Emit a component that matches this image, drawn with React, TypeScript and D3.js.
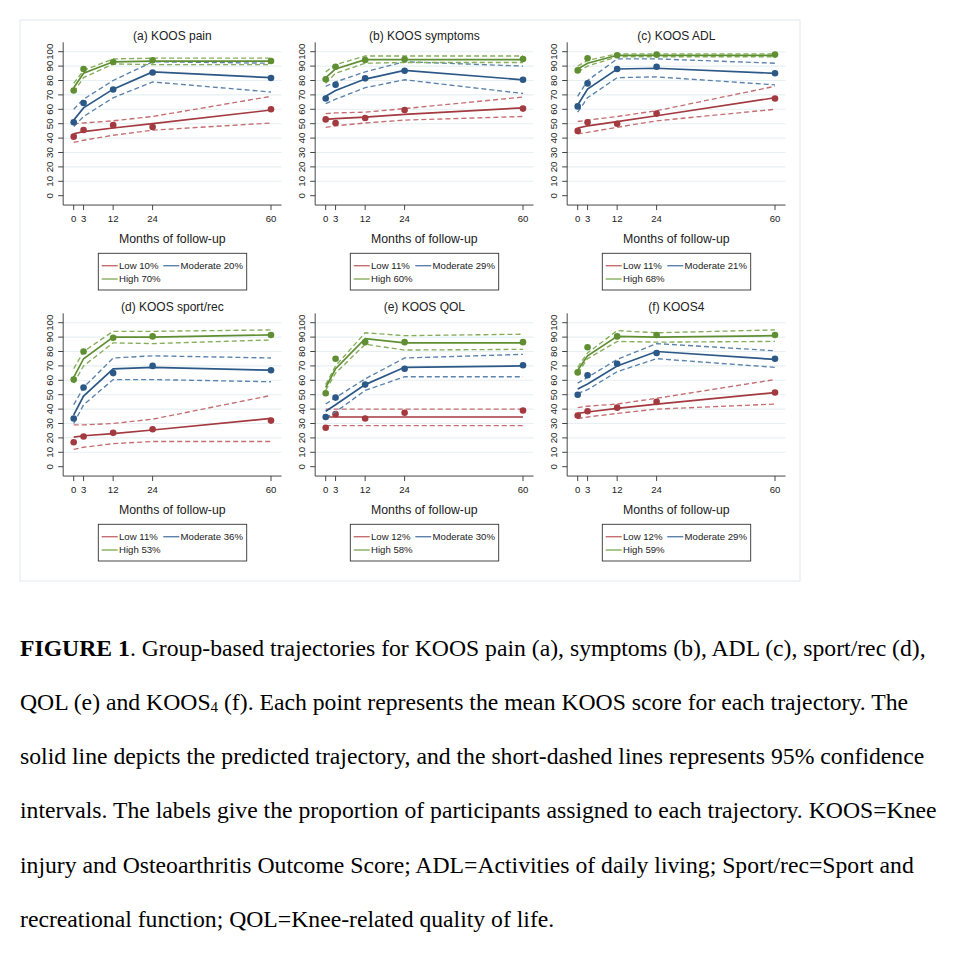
import React from 'react';
import * as d3 from 'd3';

// months of follow-up
const months = [0, 3, 12, 24, 60];
const yTicks = [0, 10, 20, 30, 40, 50, 60, 70, 80, 90, 100];
const gridTicks = [10, 20, 30, 40, 50, 60, 70, 80, 90, 100];

const titles = ['(a) KOOS pain', '(b) KOOS symptoms', '(c) KOOS ADL', '(d) KOOS sport/rec', '(e) KOOS QOL', '(f) KOOS4'];
const lowPct = ['10%', '11%', '11%', '11%', '12%', '12%'];
const modPct = ['20%', '29%', '21%', '36%', '30%', '29%'];
const highPct = ['70%', '60%', '68%', '53%', '58%', '59%'];

// each: [low, moderate, high] over months
const painObs = [[41, 45.6, 49, 47.7, 60], [51, 64.4, 73.8, 85.6, 81.7], [73.1, 88, 92.8, 94, 93.5]];
const painFit = [[43, 44.5, 47, 50, 59.5], [52.5, 61, 74, 86, 82], [75, 85, 93, 93.5, 93.5]];
const painUp = [[50, 50.5, 52, 55, 69], [60, 67, 80, 93, 92], [78, 87, 95, 95.5, 95.5]];
const painLo = [[37, 38.5, 42, 45.5, 50.5], [48, 55, 68, 79, 72], [72, 82, 91.5, 91, 91]];

const sympObs = [[53, 50.5, 54, 59.5, 60.5], [67.5, 77, 81.5, 86.8, 80.5], [80.8, 89.6, 94.2, 94.7, 94.9]];
const sympFit = [[53, 53.5, 54.5, 56.5, 61], [69, 73, 81, 87, 80.5], [82, 88, 94.5, 94.5, 94.5]];
const sympUp = [[57, 57.5, 58, 60.5, 68.5], [76, 79, 86, 93, 90], [86, 91, 97, 97, 97]];
const sympLo = [[47.5, 48.5, 50.5, 52.5, 55], [64, 67, 75, 80.5, 71], [78, 85, 92, 92.5, 92.5]];

const adlObs = [[45, 51, 50, 57, 67.5], [62, 78, 88, 89.5, 85], [87, 95.5, 97.5, 98, 98]];
const adlFit = [[47, 48.5, 51.5, 55.5, 68], [63, 74, 88, 88.5, 85], [88, 92, 97.5, 97.5, 97.5]];
const adlUp = [[51.5, 52.5, 55, 59, 76], [69, 80, 95, 95, 92], [90, 94, 98.5, 98.5, 98.5]];
const adlLo = [[43, 44, 47.5, 52, 60], [58, 68, 82, 82.5, 77], [86, 90, 96.5, 96.5, 96.5]];

const sportObs = [[17, 21, 23.5, 26, 32], [33.5, 55, 65, 70, 67], [60.5, 80, 89.5, 90.5, 91.5]];
const sportFit = [[20.5, 21.5, 23, 25.5, 33.5], [36, 49, 68, 69, 67], [62, 75, 90, 90, 91.5]];
const sportUp = [[29, 29, 30, 33, 49.5], [43, 55, 75.5, 77, 75.5], [68, 80, 94, 94, 95]];
const sportLo = [[12, 13.5, 16, 17.5, 17.5], [30, 43, 60.5, 60.5, 59], [58, 70, 86, 85.5, 88]];

const qolObs = [[27, 36.5, 33.5, 37.5, 39], [34.5, 48, 57, 68, 70.5], [51, 75, 86.5, 86.5, 86.5]];
const qolFit = [[34.5, 34.5, 34.5, 34.5, 34.5], [38.5, 43, 57, 69, 70], [55, 68, 89, 86, 86]];
const qolUp = [[40, 40, 40, 40, 40], [43.5, 48, 61, 75.5, 78], [57, 70, 93, 91, 92]];
const qolLo = [[28.5, 28.5, 28.5, 28.5, 28.5], [34, 38, 53, 62.5, 62.5], [53, 65, 85, 81, 81.5]];

const k4Obs = [[35.5, 38.5, 41, 45, 51.5], [50, 63.5, 71.5, 79, 75], [65.5, 83, 90.5, 91.5, 91.5]];
const k4Fit = [[37, 38, 40.5, 43.5, 51.5], [54, 57.5, 70, 80, 74.5], [67, 77, 90.5, 90, 91]];
const k4Up = [[41, 42, 43.5, 47.5, 60.5], [58, 62, 74.5, 85.5, 80.5], [69, 79, 94.5, 93, 95]];
const k4Lo = [[33.5, 34.5, 37, 40, 43.5], [51, 53.5, 66, 75, 69], [65, 75, 87, 86.5, 87]];

const panelData = [
  [painObs, painFit, painUp, painLo],
  [sympObs, sympFit, sympUp, sympLo],
  [adlObs, adlFit, adlUp, adlLo],
  [sportObs, sportFit, sportUp, sportLo],
  [qolObs, qolFit, qolUp, qolLo],
  [k4Obs, k4Fit, k4Up, k4Lo],
];

const groupColors = ['#a33a40', '#2b5886', '#5f8f32'];
const ciColors = ['#c46e72', '#5a82ab', '#86ad5c'];

const sans = '"Liberation Sans", Arial, Helvetica, sans-serif';
const serif = '"Liberation Serif", "Times New Roman", serif';

const captionLines = [
  'solid line depicts the predicted trajectory, and the short-dashed lines represents 95% confidence',
  'intervals. The labels give the proportion of participants assigned to each trajectory. KOOS=Knee',
  'injury and Osteoarthritis Outcome Score; ADL=Activities of daily living; Sport/rec=Sport and',
  'recreational function; QOL=Knee-related quality of life.',
];

function Panel({ idx }: { idx: number }) {
  const ox = (idx % 3) * 252;
  const oy = Math.floor(idx / 3) * 271;
  const [obs, fit, up, lo] = panelData[idx];

  const x = d3.scaleLinear().domain([0, 60]).range([73.7 + ox, 271 + ox]);
  const y = d3.scaleLinear().domain([0, 100]).range([195.7 + oy, 51.7 + oy]);
  const left = x(-3.2);
  const right = x(63.2);
  const bottom = y(-6.5);
  const top = y(106.5);
  const cx = (left + right) / 2;

  const line = d3.line<number>().x((_, i) => x(months[i])).y(d => y(d));

  const lx = 98.3 + ox;
  const ly = 253.3 + oy;
  const legendItems = [
    { c: 0, label: `Low ${lowPct[idx]}`, dx: 3.4, dy: 12.4 },
    { c: 1, label: `Moderate ${modPct[idx]}`, dx: 65, dy: 12.4 },
    { c: 2, label: `High ${highPct[idx]}`, dx: 3.4, dy: 25.7 },
  ];

  return (
    <g>
      {gridTicks.map(t => (
        <line key={t} x1={left} x2={right} y1={y(t)} y2={y(t)} stroke="#e6eff1" strokeWidth={1.1} />
      ))}
      <line x1={left} x2={left} y1={top} y2={bottom} stroke="#333" strokeWidth={0.9} />
      <line x1={left} x2={right} y1={bottom} y2={bottom} stroke="#333" strokeWidth={0.9} />
      {yTicks.map(t => (
        <g key={t}>
          <line x1={left - 5} x2={left} y1={y(t)} y2={y(t)} stroke="#333" strokeWidth={0.9} />
          <text transform={`translate(${left - 10.3},${y(t)}) rotate(-90)`} textAnchor="middle"
            fontSize={9.8} fontFamily={sans} fill="#222">{t}</text>
        </g>
      ))}
      {months.map(m => (
        <g key={m}>
          <line x1={x(m)} x2={x(m)} y1={bottom} y2={bottom + 5} stroke="#333" strokeWidth={0.9} />
          <text x={x(m)} y={bottom + 17.3} textAnchor="middle" fontSize={9.6} fontFamily={sans} fill="#222">{m}</text>
        </g>
      ))}
      <text x={cx} y={39.5 + oy} textAnchor="middle" fontSize={12} fontFamily={sans} fill="#222">{titles[idx]}</text>
      <text x={cx} y={243 + oy} textAnchor="middle" fontSize={12.3} fontFamily={sans} fill="#222">Months of follow-up</text>

      {[0, 1, 2].map(g => (
        <g key={g}>
          <path d={line(up[g]) || ''} fill="none" stroke={ciColors[g]} strokeWidth={1.35} strokeDasharray="5,3" />
          <path d={line(lo[g]) || ''} fill="none" stroke={ciColors[g]} strokeWidth={1.35} strokeDasharray="5,3" />
          <path d={line(fit[g]) || ''} fill="none" stroke={groupColors[g]} strokeWidth={1.7} />
          {obs[g].map((v, i) => (
            <circle key={i} cx={x(months[i])} cy={y(v)} r={3.3} fill={groupColors[g]} />
          ))}
        </g>
      ))}

      <rect x={lx} y={ly} width={148.4} height={36.7} fill="#fff" stroke="#333" strokeWidth={0.9} />
      {legendItems.map(it => (
        <g key={it.c}>
          <line x1={lx + it.dx} x2={lx + it.dx + 16} y1={ly + it.dy} y2={ly + it.dy} stroke={ciColors[it.c]} strokeWidth={1.4} />
          <text x={lx + it.dx + 17.3} y={ly + it.dy + 3.4} fontSize={9.6} fontFamily={sans} fill="#222">{it.label}</text>
        </g>
      ))}
    </g>
  );
}

export default function App() {
  const lineGap = 54.3;
  const base = 655.5;
  const fs = 23.7;
  return (
    <svg width={953} height={959} style={{ position: 'absolute', left: 0, top: 0, background: '#fff' }}>
      <rect x={20} y={20} width={780} height={561} fill="#fff" stroke="#e2eaed" strokeWidth={1} />
      {[0, 1, 2, 3, 4, 5].map(i => <Panel key={i} idx={i} />)}

      <text x={20} y={base} fontSize={fs} fontFamily={serif} fill="#000">
        <tspan fontWeight="bold">FIGURE 1</tspan>. Group-based trajectories for KOOS pain (a), symptoms (b), ADL (c), sport/rec (d),
      </text>
      <text x={20} y={base + lineGap} fontSize={fs} fontFamily={serif} fill="#000">
        QOL (e) and KOOS<tspan fontSize={15} dy={2}>4</tspan><tspan dy={-2}> (f). Each point represents the mean KOOS score for each trajectory. The</tspan>
      </text>
      {captionLines.map((t, i) => (
        <text key={i} x={20} y={base + lineGap * (i + 2)} fontSize={fs} fontFamily={serif} fill="#000">{t}</text>
      ))}
    </svg>
  );
}
